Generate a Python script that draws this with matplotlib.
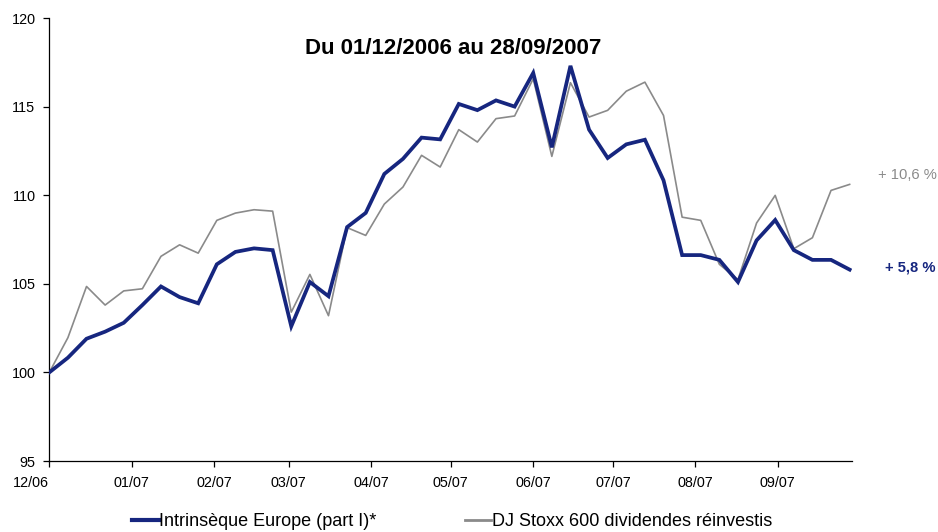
import matplotlib
matplotlib.use("Agg")
import matplotlib.pyplot as plt
import pandas as pd

plt.rcParams['font.family'] = ['Liberation Sans', 'DejaVu Sans']

# Weekly dates (Fridays) from 01/12/2006 to 28/09/2007
dates = pd.date_range("2006-12-01", "2007-09-28", freq="7D")

intrinseque = [100.0, 100.83, 101.9, 102.3, 102.8, 103.8, 104.85, 104.25, 103.9, 106.1,
               106.8, 107.0, 106.9, 102.6, 105.1, 104.3, 108.2, 109.0, 111.2, 112.05,
               113.25, 113.15, 115.15, 114.8, 115.35, 115.0, 116.9, 112.7, 117.3, 113.7,
               112.1, 112.87, 113.13, 110.84, 106.62, 106.62, 106.35, 105.1, 107.45, 108.6,
               106.9, 106.35, 106.35, 105.8]

stoxx = [100.0, 101.96, 104.85, 103.8, 104.6, 104.72, 106.55, 107.2, 106.73, 108.58,
         108.99, 109.18, 109.1, 103.4, 105.53, 103.2, 108.17, 107.73, 109.5, 110.46,
         112.25, 111.59, 113.7, 113.0, 114.32, 114.47, 116.57, 112.19, 116.35, 114.41,
         114.79, 115.87, 116.38, 114.5, 108.76, 108.58, 106.1, 105.23, 108.43, 109.99,
         106.98, 107.6, 110.27, 110.61]

series_names = ["Intrinsèque Europe (part I)*", "DJ Stoxx 600 dividendes réinvestis"]
month_ticks = pd.date_range("2006-12-01", "2007-09-01", freq="MS")
month_labels = ["12/06", "01/07", "02/07", "03/07", "04/07", "05/07", "06/07", "07/07", "08/07", "09/07"]
y_ticks = [95, 100, 105, 110, 115, 120]
title = "Du 01/12/2006 au 28/09/2007"
end_labels = ["+ 5,8 %", "+ 10,6 %"]

navy = "#16267f"
gray = "#8a8a8a"

W, H = 938, 532
fig = plt.figure(figsize=(W / 100, H / 100), dpi=100)
left, right, top, bottom = 49.3, 852.3, 18, 461
ax = fig.add_axes([left / W, 1 - bottom / H, (right - left) / W, (bottom - top) / H])

ax.plot(dates, stoxx, color=gray, lw=1.2, label=series_names[1], zorder=2)
ax.plot(dates, intrinseque, color=navy, lw=2.7, label=series_names[0], zorder=3,
        solid_joinstyle='miter')

ax.set_xlim(pd.Timestamp("2006-12-01"), pd.Timestamp("2007-09-29"))
ax.set_ylim(95, 120)
ax.set_yticks(y_ticks)
ax.set_xticks(month_ticks)
ax.set_xticklabels(month_labels)
ax.get_xticklabels()[0].set_horizontalalignment('right')

for s in ['top', 'right']:
    ax.spines[s].set_visible(False)
for s in ['left', 'bottom']:
    ax.spines[s].set_linewidth(0.9)
    ax.spines[s].set_color('black')
ax.tick_params(axis='both', direction='out', length=4, width=0.9, labelsize=10.4, colors='black')
ax.tick_params(axis='x', pad=7)
ax.tick_params(axis='y', pad=6)

fig.text(453 / W, 1 - 48 / H, title, ha='center', va='center', fontsize=16, fontweight='bold')

fig.text(937 / W, 1 - 175 / H, end_labels[1], ha='right', va='center', fontsize=10.6, color=gray)
fig.text(935 / W, 1 - 268 / H, end_labels[0], ha='right', va='center', fontsize=10.6,
         color=navy, fontweight='bold')

handles = [ax.lines[1], ax.lines[0]]
leg = fig.legend(handles, [series_names[0], series_names[1]], loc='center',
                 bbox_to_anchor=(452.5 / W, 1 - 522 / H), ncol=2, frameon=False,
                 fontsize=13, handlelength=1.45, handletextpad=0.05, columnspacing=4.9,
                 borderpad=0)
leg_lines = leg.get_lines()
leg_lines[0].set_linewidth(3.0)
leg_lines[1].set_linewidth(2.0)

fig.savefig("out.png", dpi=100)
